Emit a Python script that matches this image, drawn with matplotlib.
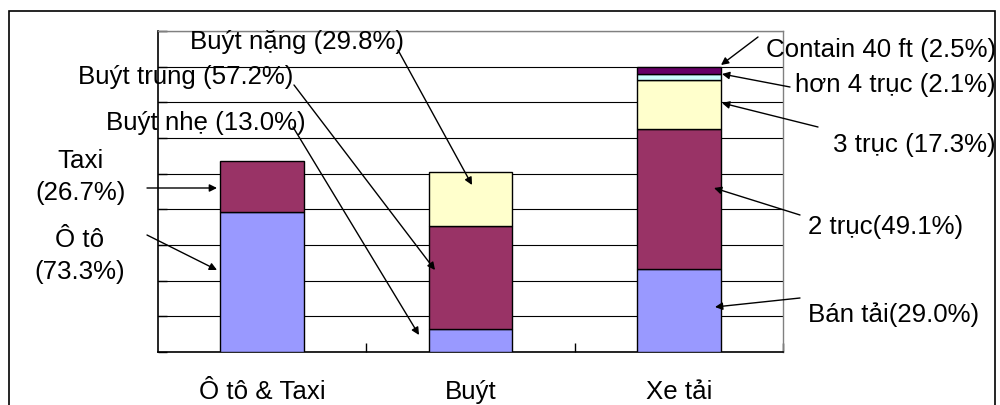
import matplotlib
matplotlib.use("Agg")
import matplotlib.pyplot as plt
from matplotlib.patches import Rectangle
import numpy as np

plt.rcParams['font.family'] = ['Liberation Sans', 'DejaVu Sans']

# Vehicle groups and their total counts (axis units)
categories = ["Ô tô & Taxi", "Buýt", "Xe tải"]
totals = [53.5, 50.5, 80.0]

# Share (%) of each sub-type inside its group, stacked bottom to top
car_labels = ["Ô tô", "Taxi"]
car_pct = [73.3, 26.7]
bus_labels = ["Buýt nhẹ", "Buýt trung", "Buýt nặng"]
bus_pct = [13.0, 57.2, 29.8]
truck_labels = ["Bán tải", "2 trục", "3 trục", "hơn 4 trục", "Contain 40 ft"]
truck_pct = [29.0, 49.1, 17.3, 2.1, 2.5]

groups = [car_pct, bus_pct, truck_pct]
palette = [
    ["#9999FF", "#993366"],
    ["#9999FF", "#993366", "#FFFFCC"],
    ["#9999FF", "#993366", "#FFFFCC", "#CCFFFF", "#660066"],
]

W, H = 1000, 405
fig = plt.figure(figsize=(W / 100, H / 100), dpi=100)

def fp(x, y):
    """Pixel position measured from the top-left corner -> figure fraction."""
    return (x / W, 1 - y / H)

ax = fig.add_axes([158 / W, 1 - 352 / H, 625 / W, 321 / H])

for i, (pcts, cols) in enumerate(zip(groups, palette)):
    bottom = 0.0
    for p, c in zip(pcts, cols):
        h = totals[i] * p / 100.0
        ax.bar(i, h, width=0.4, bottom=bottom, color=c, edgecolor="black",
               linewidth=1.0, zorder=3)
        bottom += h

FS = 18.6

ax.set_xlim(-0.5, 2.5)
ax.set_ylim(0, 90)
ax.set_yticks(np.arange(0, 91, 10))
ax.set_yticklabels([])
ax.yaxis.grid(True, color="black", linewidth=0.8, zorder=0)
ax.tick_params(axis="y", direction="in", length=6.5, width=1.0, color="black")

ax.set_xticks(range(len(categories)))
ax.set_xticklabels(categories, fontsize=FS)
ax.tick_params(axis="x", which="major", length=0, pad=20)
ax.set_xticks([0.5, 1.5, 2.5], minor=True)
ax.tick_params(axis="x", which="minor", direction="in", length=6.5, width=1.0)

for s in ["left", "bottom"]:
    ax.spines[s].set_color("black")
    ax.spines[s].set_linewidth(1.2)
for s in ["top", "right"]:
    ax.spines[s].set_color("#808080")
    ax.spines[s].set_linewidth(1.0)

# outer chart frame
fig.patches.append(Rectangle(fp(9, 420), (995 - 9) / W, (420 - 11) / H,
                             transform=fig.transFigure, fill=False,
                             edgecolor="black", linewidth=1.2))

callouts = [
    # text, text anchor (px), ha, arrow start (px), arrow tip (px)
    ("Buýt nặng (29.8%)", (297, 42), "center", (398, 50), (472, 185)),
    ("Buýt trung (57.2%)", (186, 77), "center", (294, 85), (435, 270)),
    ("Buýt nhẹ (13.0%)", (206, 123), "center", (293, 127), (419, 335)),
    ("Taxi\n(26.7%)", (81, 177), "center", (147, 188), (217, 188)),
    ("Ô tô\n(73.3%)", (80, 256), "center", (147, 235), (217, 270)),
    ("Contain 40 ft (2.5%)", (996, 50), "right", (758, 37), (721, 65)),
    ("hơn 4 trục (2.1%)", (996, 85), "right", (790, 87), (722, 74)),
    ("3 trục (17.3%)", (996, 145), "right", (818, 127), (722, 103)),
    ("2 trục(49.1%)", (808, 227), "left", (800, 215), (714, 188)),
    ("Bán tải(29.0%)", (808, 315), "left", (800, 298), (715, 307)),
]

for txt, pos, ha, start, tip in callouts:
    fig.text(*fp(*pos), txt, fontsize=FS, ha=ha, va="center",
             multialignment="center", linespacing=1.45, zorder=5)
    ax.annotate("", xy=fp(*tip), xycoords="figure fraction",
                xytext=fp(*start), textcoords="figure fraction",
                arrowprops=dict(arrowstyle="-|>", color="black", lw=1.0,
                                mutation_scale=11, shrinkA=0, shrinkB=0),
                zorder=6, annotation_clip=False)

fig.savefig("out.png", dpi=100)
